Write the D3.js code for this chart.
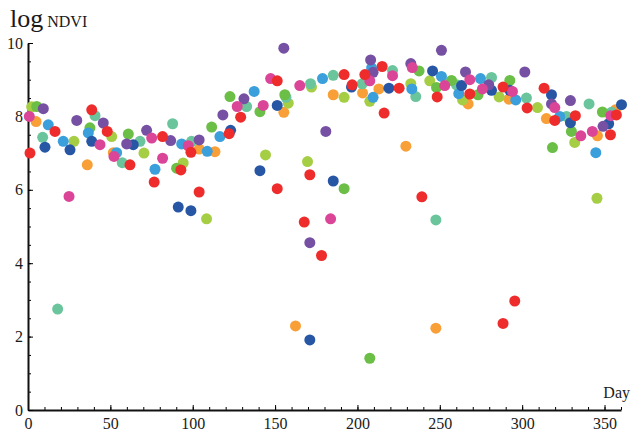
<!DOCTYPE html>
<html>
<head>
<meta charset="utf-8">
<script src="https://cdn.jsdelivr.net/npm/d3@7"></script>
<style>
body{margin:0;background:#fff}
text{font-family:"Liberation Serif","Times New Roman",serif;fill:#1a1a1a}
</style>
</head>
<body>
<div id="chart"></div>
<script>
// Chart size
const margin = {top:43, right:11, bottom:26, left:28};
const width = 632 - margin.left - margin.right;
const height = 436 - margin.top - margin.bottom;

// Tick values
const xMajor = [0,50,100,150,200,250,300,350];
const yMajor = [0,2,4,6,8,10];

// Data: [day, log NDVI]
const red = [[1.2,7.0],[16.4,7.59],[38.7,8.18],[48.1,7.59],[61.9,6.68],[76.6,6.21],[81.7,7.45],[92.8,6.54],[98.9,7.02],[103.9,5.94],[122.1,7.53],[129.1,7.98],[151.3,8.97],[151.3,6.03],[171.1,6.41],[167.7,5.12],[178.2,4.21],[191.9,9.14],[196.8,8.86],[204.5,9.14],[215,9.36],[216.2,8.09],[225.3,8.77],[239.1,5.81],[248.4,8.53],[268.2,8.61],[288.4,8.8],[288.4,2.36],[295.5,2.97],[303,8.23],[313.3,8.77],[319.8,7.89],[332.3,8.02],[353.6,7.5],[357.2,8.04]];
const darkBlue = [[10.3,7.16],[25.5,7.09],[38.7,7.32],[63.9,7.23],[91.2,5.53],[98.9,5.43],[123,7.62],[140.8,6.52],[151.3,8.3],[171.1,1.91],[185.3,6.24],[196.4,8.8],[219.1,8.77],[245.6,9.24],[263.2,8.84],[281.4,8.71],[292.5,8.71],[317.8,8.59],[329.3,7.83],[352.5,7.8],[360.3,8.32]];
const purple = [[9.3,8.21],[29.6,7.89],[45.7,7.82],[59.9,7.25],[72,7.62],[86.6,7.34],[103.9,7.36],[118.3,8.04],[131.1,8.48],[155.3,9.86],[171.1,4.56],[180.8,7.59],[208,9.54],[209.5,9.2],[232.4,9.44],[251,9.8],[265.6,9.21],[279.7,8.86],[301.6,9.21],[317.8,8.34],[329.3,8.43],[349.1,7.73]];
const yellowGreen = [[2.2,8.26],[27.9,7.32],[50.8,7.45],[70.4,7.0],[94.2,6.73],[108.4,5.21],[144.2,6.95],[158,8.36],[169.7,6.77],[172.1,8.8],[191.9,8.52],[207.5,8.41],[232.4,8.89],[243.9,8.97],[263.8,8.45],[286,8.53],[309.3,8.24],[331.9,7.29],[345.4,5.77]];
const green = [[5.3,8.27],[37.6,7.69],[60.9,7.52],[90.2,6.59],[111.5,7.71],[122.6,8.54],[140.8,8.13],[155.9,8.59],[191.9,6.03],[207.5,1.41],[237.4,9.24],[248,8.79],[257.1,8.98],[273.2,8.59],[292.5,8.98],[318.4,7.15],[329.9,7.59],[348.7,8.12]];
const teal = [[8.9,7.43],[18,2.75],[40.7,8.02],[57.2,6.74],[68,7.32],[87.8,7.8],[99.3,7.32],[132.7,8.27],[156.6,8.52],[171.5,8.89],[185.3,9.12],[202.9,8.89],[221.3,9.25],[235.4,8.54],[247.6,5.18],[260.1,8.86],[281.4,9.06],[302.6,8.5],[326.9,8.0],[340.6,8.34],[354.2,8.11]];
const lightBlue = [[12.3,7.77],[21.4,7.32],[36.6,7.55],[53.8,7.01],[77.1,6.56],[93.3,7.25],[108.8,7.05],[116.5,7.45],[137.3,8.68],[178.8,9.03],[208.6,9.32],[209.5,8.52],[233,8.75],[251,9.09],[261.5,8.62],[274.7,9.03],[296.1,8.45],[322.8,8.0],[344.7,7.01]];
const orange = [[4.9,7.86],[36,6.68],[51.8,7.01],[103.9,7.11],[113.5,7.04],[155.3,8.11],[162.4,2.29],[185.3,8.59],[203.1,8.64],[213,8.75],[229.4,7.19],[247.6,2.23],[267.2,8.34],[291.9,8.47],[314.7,7.94],[345.7,7.47],[356.6,8.18]];
const magenta = [[0.8,8.0],[24.9,5.82],[43.7,7.23],[52.2,6.91],[75.1,7.41],[81.7,6.86],[97.3,7.2],[127,8.27],[142.8,8.3],[147.3,9.03],[165,8.84],[183.7,5.21],[207.5,8.97],[221.3,9.11],[233.3,9.33],[253,8.84],[268.2,9.0],[275.9,8.75],[294.1,8.68],[319.8,8.24],[335.6,7.47],[342.6,7.59],[353.8,8.02]];

const series = [orange, yellowGreen, teal, green, lightBlue, darkBlue, purple, magenta, red];
const colors = ["#f89f38","#a6ce45","#6bc59c","#6bbe46","#3a9fda","#2756a5","#7550a3","#db4598","#ee2c2c"];

const svg = d3.select("#chart")
.append("svg")
.attr("width", width + margin.left + margin.right)
.attr("height", height + margin.top + margin.bottom)
.append("g")
.attr("transform", `translate(${margin.left},${margin.top})`);

// Scales
const x = d3.scaleLinear().domain([0,360]).range([0,width]);
const y = d3.scaleLinear().domain([0,10]).range([height,0]);

// Minor ticks
svg.append("g")
.attr("transform", `translate(0,${height})`)
.call(d3.axisBottom(x).tickValues(d3.range(0,361,10)).tickSize(-3).tickFormat(""))
.call(g => g.select(".domain").remove());

svg.append("g")
.call(d3.axisLeft(y).tickValues(d3.range(0,10.01,0.5)).tickSize(-3).tickFormat(""))
.call(g => g.select(".domain").remove());

// X Axis
const xAxis = svg.append("g")
.attr("transform", `translate(0,${height})`)
.call(d3.axisBottom(x).tickValues(xMajor).tickSize(-5).tickSizeOuter(0).tickPadding(8));

// Y Axis
const yAxis = svg.append("g")
.call(d3.axisLeft(y).tickValues(yMajor).tickSize(-5).tickSizeOuter(0).tickPadding(5));

[xAxis, yAxis].forEach(g => {
g.select(".domain").attr("stroke-width", 2).attr("stroke", "#111");
g.selectAll("text").attr("font-size", 16).attr("font-family", "Liberation Serif");
});

// Points
series.forEach((data, i) => {
svg.append("g")
.selectAll("circle")
.data(data)
.enter()
.append("circle")
.attr("cx", d => x(d[0]))
.attr("cy", d => y(d[1]))
.attr("r", 5.5)
.attr("fill", colors[i]);
});

// Axis labels
const yLabel = svg.append("text")
.attr("x", -18)
.attr("y", -16);
yLabel.append("tspan").attr("font-size", 26).text("log");
yLabel.append("tspan").attr("font-size", 16).attr("dx", 4).text("NDVI");

svg.append("text")
.attr("x", width + 9)
.attr("y", height - 12)
.attr("text-anchor", "end")
.attr("font-size", 16)
.text("Day");
</script>
</body>
</html>
